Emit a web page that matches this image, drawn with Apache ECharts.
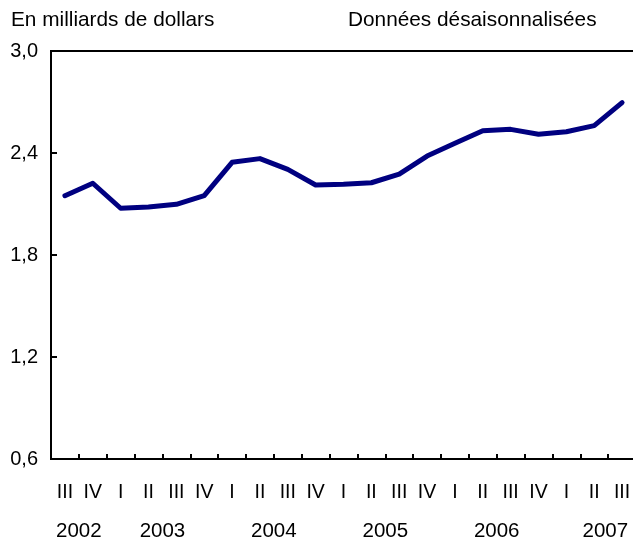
<!DOCTYPE html>
<html><head><meta charset="utf-8">
<script src="https://cdn.jsdelivr.net/npm/echarts@6/dist/echarts.min.js"></script>
<style>html,body{margin:0;padding:0;background:#fff}#c{width:633px;height:539px}</style>
</head><body><div id="c"></div>
<script>
const quarters = ['III','IV','I','II','III','IV','I','II','III','IV','I','II','III','IV','I','II','III','IV','I','II','III'];
const values = [2.149,2.222,2.075,2.082,2.098,2.149,2.345,2.367,2.304,2.212,2.216,2.225,2.276,2.382,2.457,2.531,2.539,2.510,2.525,2.561,2.696];
const years = ['2002','2003','2004','2005','2006','2007'];
const yearCenters = [0.5, 3.5, 7.5, 11.5, 15.5, 19.4];
const yTicks = [0.6, 1.2, 1.8, 2.4, 3.0];
const unitLabel = 'En milliards de dollars';
const noteLabel = 'Données désaisonnalisées';

const FONT = 'Liberation Sans, Arial, Helvetica, sans-serif';
const chart = echarts.init(document.getElementById('c'), null, {renderer:'canvas'});
chart.setOption({
  animation: false,
  backgroundColor: '#fff',
  title: [
    {text: unitLabel, left: 6, top: 5, textStyle:{fontFamily:FONT, fontSize:20.8, fontWeight:'normal', color:'#000'}},
    {text: noteLabel, left: 343, top: 5, textStyle:{fontFamily:FONT, fontSize:20.8, fontWeight:'normal', color:'#000'}}
  ],
  grid: {left: 51, top: 51, width: 585, height: 408, outerBoundsMode: 'none', containLabel: false,
    show: true, borderColor:'#000', borderWidth: 2, backgroundColor:'transparent'},
  xAxis: [
    {type:'category', data: quarters, boundaryGap: true,
     axisLine:{show:true, onZero:false, lineStyle:{color:'#000', width:2}},
     axisTick:{show:true, inside:true, length:5, interval:0, lineStyle:{color:'#000', width:2}},
     axisLabel:{interval:0, margin:24, fontFamily:FONT, fontSize:19.5, color:'#000'},
     splitLine:{show:false}},
    {type:'value', min:-0.5, max:20.5, position:'bottom', offset:38,
     axisLine:{show:false, onZero:false}, axisTick:{show:false}, splitLine:{show:false},
     axisLabel:{customValues: yearCenters, margin:24, fontFamily:FONT, fontSize:20.5, color:'#000',
       formatter: function(v){ const i = yearCenters.findIndex(c => Math.abs(c - v) < 1e-6); return i >= 0 ? years[i] : ''; }}}
  ],
  yAxis: {type:'value', min:0.6, max:3.0, interval:0.6,
    axisLine:{show:true, onZero:false, lineStyle:{color:'#000', width:2}},
    axisTick:{show:true, inside:true, length:6, lineStyle:{color:'#000', width:2}},
    axisLabel:{margin:13, fontFamily:FONT, fontSize:20, color:'#000',
      formatter: v => v.toFixed(1).replace('.', ',')},
    splitLine:{show:false}},
  series: [{type:'line', data: values, xAxisIndex:0, symbol:'none',
    lineStyle:{color:'#000080', width:5, join:'round', cap:'round'}}]
});
</script></body></html>
